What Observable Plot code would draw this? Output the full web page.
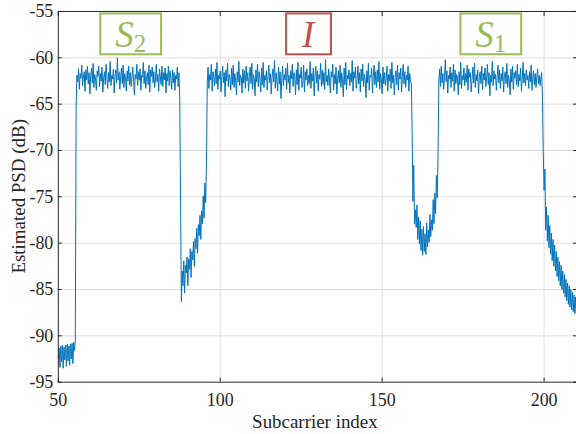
<!DOCTYPE html>
<html>
<head>
<meta charset="utf-8">
<script src="https://cdn.jsdelivr.net/npm/d3@7"></script>
<script src="https://cdn.jsdelivr.net/npm/@observablehq/plot@0.6"></script>
<style>
  html, body { margin: 0; padding: 0; background: #fff; overflow: hidden; }
</style>
</head>
<body>
<script>
const subcarrierStep = 0.25;

// noise floor left of S2 (starts at subcarrier 50)
const floorLeftStart = 50;
const floorLeft = [-92.4, -91.3, -93.4, -91.1, -92.8, -91.0, -93.5, -91.2, -92.6, -91.0, -93.3, -90.9, -92.7, -91.1, -93.2, -90.9, -92.5, -90.8, -93.0, -90.7, -91.6, -90.5];

// S2 band (starts at 55.5)
const bandS2Start = 55.5;
const bandS2 = [
  -65.3, -61.9, -62.6, -61.2, -63.4, -61.7, -62.2, -60.8, -63.0, -62.1, -61.5, -63.6, -61.3, -62.4, -60.9, -62.8,
  -61.6, -63.9, -62.0, -61.1, -62.7, -60.6, -63.2, -61.8, -62.3, -63.5, -61.4, -62.0, -60.9, -63.1, -61.7, -62.5,
  -61.0, -63.7, -62.2, -61.5, -62.9, -60.7, -62.1, -63.3, -61.6, -62.6, -60.4, -63.0, -61.9, -62.3, -61.2, -63.8,
  -62.0, -61.3, -62.7, -60.0, -62.4, -61.5, -63.4, -62.0, -61.1, -62.8, -60.8, -63.2, -61.7, -62.2, -63.6, -61.4,
  -62.5, -60.9, -62.9, -61.6, -63.1, -62.1, -61.0, -62.6, -64.0, -61.8, -62.3, -60.7, -63.0, -61.5, -62.4, -61.2,
  -63.5, -61.9, -62.1, -60.5, -62.8, -61.4, -63.3, -62.2, -61.6, -62.9, -60.8, -63.7, -61.3, -62.0, -61.0, -62.7,
  -61.5, -63.2, -62.3, -60.7, -62.6, -61.8, -63.6, -61.2, -62.0, -62.9, -60.9, -63.1, -61.6, -62.4, -61.1, -63.8,
  -61.7, -62.5, -60.9, -63.0, -61.4, -62.2, -63.4, -61.3, -62.7, -61.6, -63.5, -61.9, -62.3, -61.0, -63.1, -61.6,
  -64.6
];

// gap between S2 and I (starts at 88)
const gap1Start = 88;
const gap1 = [-86.3, -83.0, -84.6, -81.9, -85.4, -82.4, -83.2, -81.5, -84.6, -81.7, -82.8, -80.6, -83.7, -80.9, -81.8, -79.8,
  -82.5, -79.5, -80.6, -78.4, -81.1, -78.0, -79.2, -77.0, -79.6, -76.5, -77.9, -74.9, -77.3, -73.5, -75.6, -71.3];

// interference band I (starts at 96)
const bandIStart = 96;
const bandI = [
  -62.6, -61.0, -63.3, -61.8, -62.4, -60.7, -63.6, -61.5, -62.1, -63.0, -61.2, -62.8, -60.5, -63.4, -61.9, -62.3,
  -61.4, -63.7, -62.0, -60.9, -62.7, -61.6, -64.2, -61.3, -62.5, -60.6, -63.1, -61.8, -62.2, -63.5, -61.1, -62.9,
  -60.8, -63.2, -61.7, -62.4, -64.0, -61.5, -62.6, -60.4, -63.0, -61.9, -62.1, -63.8, -61.2, -62.7, -61.4, -63.3,
  -60.9, -62.5, -61.6, -63.6, -62.0, -61.0, -62.8, -60.6, -63.4, -61.8, -62.3, -64.1, -61.3, -62.6, -60.7, -63.1,
  -61.5, -62.2, -63.7, -61.1, -62.9, -60.5, -63.2, -61.9, -62.4, -61.4, -63.5, -62.0, -60.8, -62.7, -61.7, -63.9,
  -62.1, -61.2, -62.6, -60.3, -63.3, -61.6, -62.5, -63.6, -61.0, -62.8, -61.5, -64.4, -62.2, -60.9, -63.0, -61.8,
  -62.4, -61.1, -63.4, -60.6, -62.7, -61.9, -63.8, -61.4, -62.3, -60.7, -63.1, -61.6, -62.0, -64.0, -61.3, -62.9,
  -60.5, -63.5, -61.8, -62.2, -61.0, -63.2, -62.6, -60.8, -63.7, -61.5, -62.4, -61.2, -63.0, -61.9, -62.8, -60.4,
  -63.3, -61.7, -62.5, -61.1, -64.1, -62.0, -60.9, -62.7, -61.4, -63.6, -61.8, -62.3, -60.6, -63.1, -61.3, -62.9,
  -61.6, -63.4, -60.2, -62.6, -61.9, -63.0, -61.2, -62.4, -63.8, -61.5, -62.1, -60.7, -63.5, -61.8, -62.8, -61.0,
  -63.9, -62.2, -61.4, -62.7, -60.8, -63.2, -61.6, -62.5, -64.2, -61.1, -62.9, -60.5, -63.4, -61.9, -62.3, -61.3,
  -63.0, -61.7, -62.6, -60.3, -63.6, -61.5, -62.2, -61.0, -63.3, -62.4, -60.9, -62.8, -61.6, -63.7, -61.2, -62.5,
  -60.7, -63.1, -61.8, -62.3, -64.3, -61.4, -62.7, -60.6, -63.5, -61.9, -62.1, -61.1, -63.8, -62.0, -60.8, -62.9,
  -61.5, -63.2, -61.3, -62.6, -60.4, -63.4, -61.7, -62.4, -63.9, -61.0, -62.8, -61.6, -63.0, -62.2, -60.9, -63.6,
  -61.8, -62.5, -61.2, -63.3, -60.5, -62.7, -61.9, -64.0, -62.1, -61.4, -62.9, -60.8, -63.5, -61.6, -62.3, -61.1,
  -63.7, -62.0, -60.7, -62.8, -61.5, -63.2, -61.9, -62.4, -60.9, -63.6, -61.7, -62.6, -62.7
];

// gap between I and S1 (starts at 159.25)
const gap2Start = 159.25;
const gap2 = [-68.0, -75.5, -71.6, -77.9, -76.4, -78.3, -75.9, -79.6, -77.2, -80.1, -77.6, -80.8, -78.5, -81.3, -78.2, -80.9,
  -79.0, -81.2, -77.8, -80.4, -78.6, -79.9, -76.9, -79.3, -77.5, -78.6, -75.3, -77.9, -74.6, -76.8, -72.7, -75.1, -70.5];

// S1 band (starts at 167.5)
const bandS1Start = 167.5;
const bandS1 = [
  -62.4, -61.2, -63.1, -60.9, -62.7, -61.7, -63.4, -62.0, -60.2, -62.6, -61.4, -63.8, -61.9, -62.3, -61.0, -63.2,
  -61.6, -62.5, -60.7, -63.6, -61.3, -62.8, -61.8, -62.2, -64.0, -61.5, -62.9, -60.5, -63.3, -61.9, -62.4, -61.1,
  -63.0, -61.7, -62.6, -60.8, -63.5, -61.2, -62.1, -61.6, -63.7, -62.3, -61.0, -62.7, -60.6, -63.2, -61.8, -62.5,
  -61.3, -63.9, -62.0, -61.5, -62.8, -60.9, -63.4, -61.7, -62.4, -61.1, -63.1, -62.2, -60.7, -62.9, -61.6, -64.1,
  -61.9, -62.6, -60.4, -63.0, -61.4, -62.3, -61.8, -63.5, -62.1, -60.8, -62.7, -61.3, -63.3, -61.7, -62.5, -61.0,
  -63.7, -62.0, -61.5, -62.8, -60.6, -63.2, -61.9, -62.4, -64.0, -61.2, -62.6, -60.9, -63.4, -61.6, -62.2, -61.4,
  -62.9, -60.7, -63.1, -61.8, -62.5, -61.1, -63.6, -62.3, -60.5, -62.7, -61.7, -63.0, -61.3, -62.4, -61.9, -63.3,
  -61.5, -62.6, -60.8, -63.5, -62.1, -61.4, -62.9, -61.7, -63.2, -62.0, -61.2, -62.8, -61.9, -63.0, -62.2, -61.6,
  -64.5
];

// right tail after S1 (starts at 199.75)
const tailRightStart = 199.75;
const tailRight = [-70.5, -74.3, -72.0, -78.6, -76.1, -79.8, -77.0, -80.5, -78.1, -81.2, -78.9, -81.9, -79.6, -82.5, -80.2, -83.0,
  -80.9, -83.6, -81.5, -84.1, -82.0, -84.6, -82.4, -85.0, -83.0, -85.4, -83.4, -85.8, -83.9, -86.2, -84.3, -86.6,
  -84.6, -86.9, -85.0, -87.2, -85.3, -87.4, -85.6, -87.6, -85.8, -87.8];

const xTicks = [50, 100, 150, 200];
const yTicks = [-95, -90, -85, -80, -75, -70, -65, -60, -55];

// annotation boxes
const annMain = ["S", "I", "S"];
const annSub = ["2", "", "1"];
const annX = [72.5, 127.3, 183.7];
const annY = [-57.47, -57.47, -57.47];
const annColor = ["#9BBB59", "#C0504D", "#9BBB59"];

// ---- Build table ----
const segments = [
  [floorLeftStart, floorLeft], [bandS2Start, bandS2], [gap1Start, gap1],
  [bandIStart, bandI], [gap2Start, gap2], [bandS1Start, bandS1], [tailRightStart, tailRight]
];
const data = [];
for (const [start, vals] of segments) {
  vals.forEach((v, i) => data.push({x: start + i * subcarrierStep, y: v}));
}

const fmt = d => String(d);
const axisColor = "#262626";

const chart = Plot.plot({
  width: 578,
  height: 434,
  marginLeft: 58,
  marginRight: 0,
  marginTop: 11,
  marginBottom: 51,
  style: {fontFamily: "'Liberation Serif', 'Times New Roman', serif", fontSize: "18px", color: axisColor, background: "white", overflow: "visible"},
  x: {domain: [50, 210]},
  y: {domain: [-95, -55]},
  marks: [
    Plot.gridX(xTicks.slice(1), {stroke: "#dedede", strokeOpacity: 1}),
    Plot.gridY(yTicks.slice(1, -1), {stroke: "#dedede", strokeOpacity: 1}),
    Plot.line(data, {x: "x", y: "y", stroke: "#0072BD", strokeWidth: 1}),
    Plot.frame({stroke: axisColor}),
    Plot.axisX(xTicks, {anchor: "bottom", tickSize: 0, tickPadding: 11, tickFormat: fmt, fontSize: 18, label: null}),
    Plot.axisX(xTicks, {anchor: "bottom", tickSize: 4, dy: -4, tickFormat: () => "", label: null, stroke: axisColor}),
    Plot.axisX(xTicks, {anchor: "top", tickSize: 4, dy: 4, tickFormat: () => "", label: null, stroke: axisColor}),
    Plot.axisY(yTicks, {anchor: "left", tickSize: 0, tickPadding: 5, tickFormat: fmt, fontSize: 18, label: null}),
    Plot.axisY(yTicks, {anchor: "left", tickSize: 4, dx: 4, tickFormat: () => "", label: null, stroke: axisColor}),
    Plot.axisY(yTicks, {anchor: "right", tickSize: 4, dx: -4, tickFormat: () => "", label: null, stroke: axisColor})
  ]
});
document.body.append(chart);

const svg = d3.select(chart);
const sx = chart.scale("x"), sy = chart.scale("y");

// axis titles
svg.append("text")
  .attr("x", 316).attr("y", 430)
  .attr("text-anchor", "middle")
  .attr("fill", axisColor)
  .style("font-family", "'Liberation Serif', serif").style("font-size", "19px")
  .text("Subcarrier index");
svg.append("text")
  .attr("transform", `translate(25,${(sy.apply(-55) + sy.apply(-95)) / 2}) rotate(-90)`)
  .attr("text-anchor", "middle")
  .attr("fill", axisColor)
  .style("font-family", "'Liberation Serif', serif").style("font-size", "19px")
  .text("Estimated PSD (dB)");

// annotation boxes
annMain.forEach((m, i) => {
  const cx = sx.apply(annX[i]), cy = sy.apply(annY[i]);
  const g = svg.append("g");
  const rect = g.append("rect");
  const t = g.append("text")
    .attr("x", cx).attr("y", cy + 13)
    .attr("text-anchor", "middle")
    .attr("fill", annColor[i])
    .style("font-family", "'Liberation Serif', serif");
  t.append("tspan").style("font-style", "italic").style("font-size", "37px").text(m);
  if (annSub[i]) {
    t.append("tspan").attr("dy", 5).style("font-size", "25px").text(annSub[i]);
  }
  const bb = t.node().getBBox();
  rect.attr("x", bb.x - 15).attr("y", cy - 20.5)
    .attr("width", bb.width + 30).attr("height", 41)
    .attr("fill", "none").attr("stroke", annColor[i]).attr("stroke-width", 2);
});
</script>
</body>
</html>
